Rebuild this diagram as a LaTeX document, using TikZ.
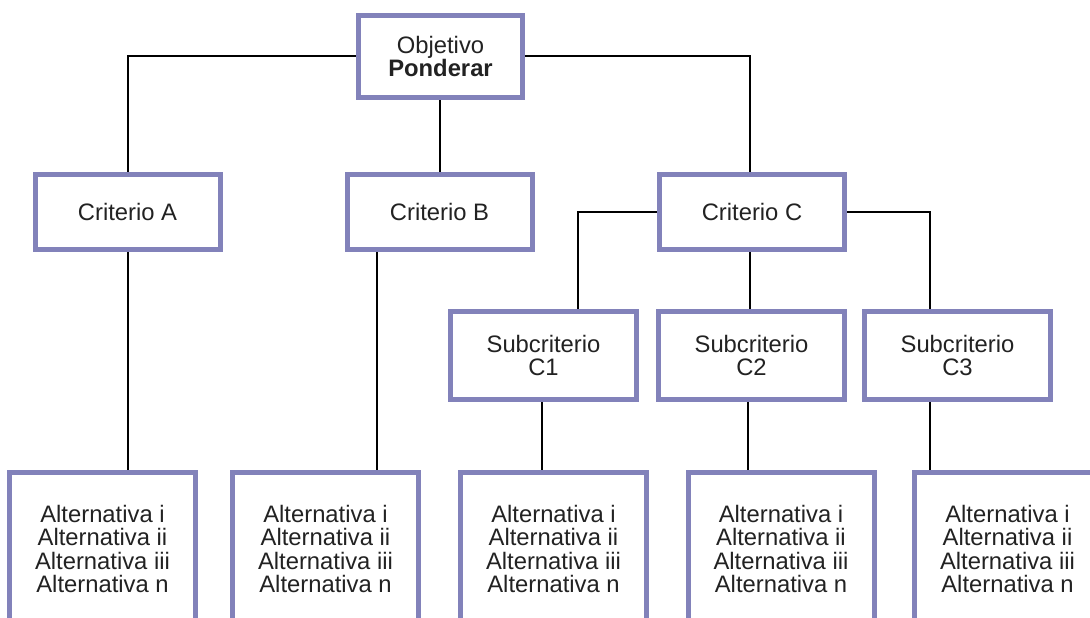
\documentclass[tikz,border=0pt]{standalone}
\usepackage{fontspec}
\setmainfont{Liberation Sans}
\usetikzlibrary{backgrounds}
\definecolor{boxborder}{RGB}{130,130,186}
\definecolor{txt}{RGB}{34,34,34}
\tikzset{
  box/.style={draw=boxborder, line width=5pt, fill=white, inner sep=0pt,
    align=center, text=txt, font=\fontsize{23.8}{23.6}\selectfont},
  topbox/.style={box, minimum width=164pt, minimum height=82pt},
  critbox/.style={box, minimum width=185pt, minimum height=75pt},
  subbox/.style={box, minimum width=186pt, minimum height=88pt},
  altbox/.style={box, minimum width=186pt, minimum height=153pt},
  link/.style={draw=black, line width=2pt}
}
\begin{document}
\begin{tikzpicture}[x=1pt,y=-1pt]
\useasboundingbox (0,0) rectangle (1090,618);
\clip (0,0) rectangle (1090,618);
\node[topbox] (obj) at (440.5,56.5) {Objetivo\\\textbf{Ponderar}};
\node[critbox] (A) at (127.5,212) {Criterio A};
\node[critbox] (B) at (439.5,212) {Criterio B};
\node[critbox] (C) at (752,212) {Criterio C};
\node[subbox] (C1) at (543.5,355.5) {Subcriterio\\C1};
\node[subbox] (C2) at (751.5,355.5) {Subcriterio\\C2};
\node[subbox] (C3) at (957.5,355.5) {Subcriterio\\C3};
\node[altbox] (a1) at (102.5,549) {Alternativa i\\Alternativa ii\\Alternativa iii\\Alternativa n};
\node[altbox] (a2) at (325.5,549) {Alternativa i\\Alternativa ii\\Alternativa iii\\Alternativa n};
\node[altbox] (a3) at (553.5,549) {Alternativa i\\Alternativa ii\\Alternativa iii\\Alternativa n};
\node[altbox] (a4) at (781,549) {Alternativa i\\Alternativa ii\\Alternativa iii\\Alternativa n};
\node[altbox] (a5) at (1007.5,549) {Alternativa i\\Alternativa ii\\Alternativa iii\\Alternativa n};
\begin{scope}[on background layer]
\fill[white] (0,0) rectangle (1090,618);
\draw[link] (obj.west) -| (A.north);
\draw[link] (B.north |- obj.south) -- (B.north);
\draw[link] (obj.east) -| ([xshift=-2pt]C.north);
\draw[link] (A.south) -- (A.south |- a1.north);
\draw[link] ([xshift=-62.5pt]B.south) -- ([xshift=-62.5pt]B.south |- a2.north);
\draw[link] (C.west) -| ([xshift=34pt]C1.north);
\draw[link] ([xshift=-2pt]C.south) -- ([xshift=-2pt]C.south |- C2.north);
\draw[link] (C.east) -| ([xshift=-28pt]C3.north);
\draw[link] ([xshift=-1.5pt]C1.south) -- ([xshift=-1.5pt]C1.south |- a3.north);
\draw[link] ([xshift=-3.5pt]C2.south) -- ([xshift=-3.5pt]C2.south |- a4.north);
\draw[link] ([xshift=-28pt]C3.south) -- ([xshift=-28pt]C3.south |- a5.north);
\end{scope}
\end{tikzpicture}
\end{document}
